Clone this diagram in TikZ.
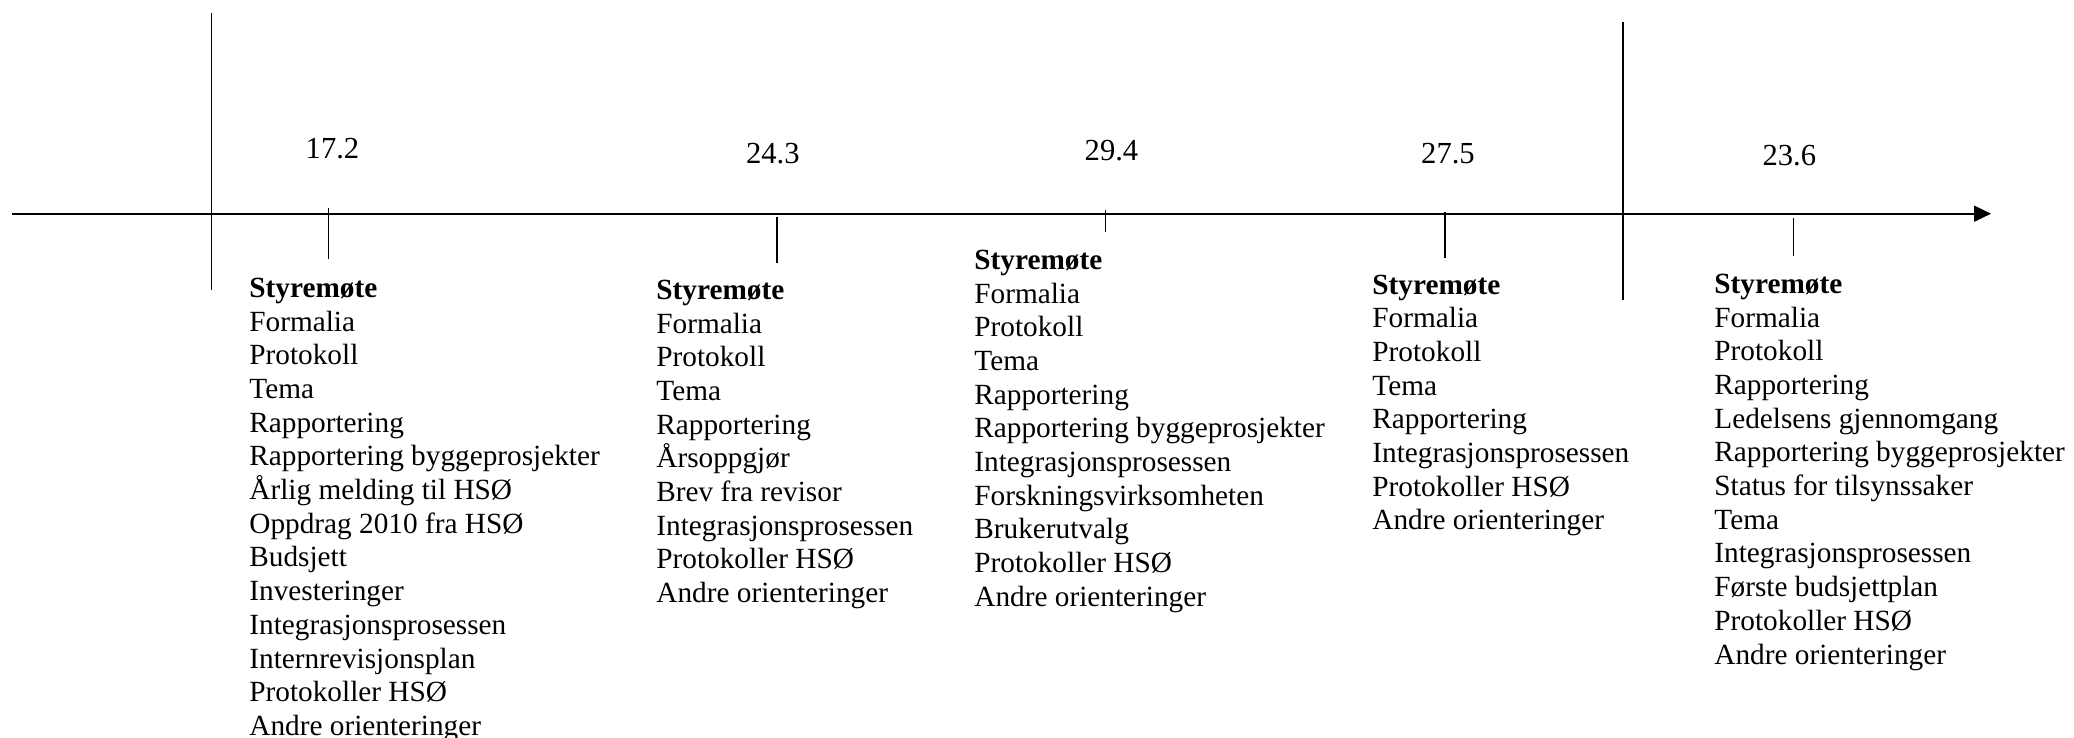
\documentclass[tikz,border=0pt]{standalone}
\usepackage{fontspec}
\setmainfont{Liberation Serif}
\usetikzlibrary{arrows.meta}
\newcommand{\mkcol}[4]{%
  \node[head] (#1-0) at (#2,#3) {Styremøte};
  \foreach \t [count=\i] in {#4} {
    \node[item] (#1-\i) at (#2,{#3+\i*33.7}) {\t};
  }
}
\begin{document}
\begin{tikzpicture}[x=0.5pt,y=-0.5pt,
  axisline/.style={line width=1pt,-{Triangle[length=8.5pt,width=8pt]}},
  divider/.style={line width=0.65pt},
  tickmark/.style={line width=0.65pt},
  datelabel/.style={inner sep=0pt,anchor=base,font=\fontsize{15.3}{18}\selectfont},
  item/.style={inner sep=0pt,anchor=base west,font=\fontsize{14.64}{16.85}\selectfont},
  head/.style={item,font=\fontsize{14.64}{16.85}\selectfont\bfseries}]
\useasboundingbox (0,0) rectangle (2074,738);
% axis
\coordinate (axstart) at (12,213.7);
\coordinate (axend) at (1991,213.7);
\draw[axisline] (axstart) -- (axend);
% dividers
\coordinate (d1t) at (211.7,12.7);
\coordinate (d1b) at (211.7,290);
\coordinate (d2t) at (1623,22);
\coordinate (d2b) at (1623,300);
\draw[divider] (d1t) -- (d1b);
\draw[divider] (d2t) -- (d2b);
% ticks
\coordinate (t1a) at (328.3,208.3); \coordinate (t1b) at (328.3,258.5);
\coordinate (t2a) at (777,217);     \coordinate (t2b) at (777,262.5);
\coordinate (t3a) at (1105.6,210);  \coordinate (t3b) at (1105.6,231.5);
\coordinate (t4a) at (1445,212);    \coordinate (t4b) at (1445,257.5);
\coordinate (t5a) at (1793.5,218);  \coordinate (t5b) at (1793.5,256);
\draw[tickmark] (t1a) -- (t1b);
\draw[tickmark] (t2a) -- (t2b);
\draw[tickmark] (t3a) -- (t3b);
\draw[tickmark] (t4a) -- (t4b);
\draw[tickmark] (t5a) -- (t5b);
% dates
\node[datelabel] (date1) at (332.5,158.3) {17.2};
\node[datelabel] (date2) at (772.8,163.3) {24.3};
\node[datelabel] (date3) at (1111.5,160.7) {29.4};
\node[datelabel] (date4) at (1448,163.3) {27.5};
\node[datelabel] (date5) at (1789.4,165.7) {23.6};
% agendas
\mkcol{a}{249}{297.3}{Formalia,Protokoll,Tema,Rapportering,Rapportering byggeprosjekter,Årlig melding til HSØ,Oppdrag 2010 fra HSØ,Budsjett,Investeringer,Integrasjonsprosessen,Internrevisjonsplan,Protokoller HSØ,Andre orienteringer}
\mkcol{b}{656}{299.3}{Formalia,Protokoll,Tema,Rapportering,Årsoppgjør,Brev fra revisor,Integrasjonsprosessen,Protokoller HSØ,Andre orienteringer}
\mkcol{c}{974}{269.3}{Formalia,Protokoll,Tema,Rapportering,Rapportering byggeprosjekter,Integrasjonsprosessen,Forskningsvirksomheten,Brukerutvalg,Protokoller HSØ,Andre orienteringer}
\mkcol{d}{1372}{294}{Formalia,Protokoll,Tema,Rapportering,Integrasjonsprosessen,Protokoller HSØ,Andre orienteringer}
\mkcol{e}{1714}{293.3}{Formalia,Protokoll,Rapportering,Ledelsens gjennomgang,Rapportering byggeprosjekter,Status for tilsynssaker,Tema,Integrasjonsprosessen,Første budsjettplan,Protokoller HSØ,Andre orienteringer}
\end{tikzpicture}
\end{document}
